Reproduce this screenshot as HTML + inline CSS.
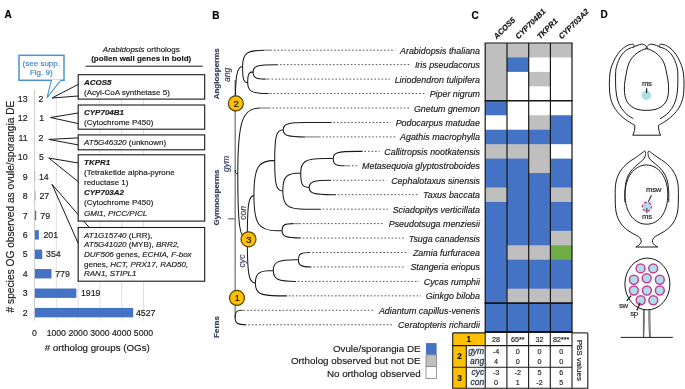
<!DOCTYPE html>
<html><head><meta charset="utf-8"><style>
html,body{margin:0;padding:0;background:#fff;}
svg{display:block;font-family:"Liberation Sans", sans-serif;will-change:transform;}
</style></head><body>
<svg width="685" height="389" viewBox="0 0 685 389">
<rect width="685" height="389" fill="#fff"/>
<text x="4.60" y="18.00" font-size="10" font-weight="bold" font-style="normal" text-anchor="start" fill="#000" stroke="#000" stroke-width="0.16" >A</text>
<text x="212.30" y="19.00" font-size="10" font-weight="bold" font-style="normal" text-anchor="start" fill="#000" stroke="#000" stroke-width="0.16" >B</text>
<text x="471.40" y="19.00" font-size="10" font-weight="bold" font-style="normal" text-anchor="start" fill="#000" stroke="#000" stroke-width="0.16" >C</text>
<text x="600.40" y="17.80" font-size="10" font-weight="bold" font-style="normal" text-anchor="start" fill="#000" stroke="#000" stroke-width="0.16" >D</text>
<line x1="34.50" y1="90" x2="34.50" y2="320.7" stroke="#c8c8c8" stroke-width="0.9"/>
<line x1="56.30" y1="90" x2="56.30" y2="320.7" stroke="#dcdcdc" stroke-width="0.9"/>
<line x1="78.10" y1="90" x2="78.10" y2="320.7" stroke="#dcdcdc" stroke-width="0.9"/>
<line x1="99.90" y1="90" x2="99.90" y2="320.7" stroke="#dcdcdc" stroke-width="0.9"/>
<line x1="121.70" y1="90" x2="121.70" y2="320.7" stroke="#dcdcdc" stroke-width="0.9"/>
<line x1="143.50" y1="90" x2="143.50" y2="320.7" stroke="#dcdcdc" stroke-width="0.9"/>
<text x="27.60" y="101.85" font-size="8.8" font-weight="normal" font-style="normal" text-anchor="end" fill="#1a1a1a" stroke="#1a1a1a" stroke-width="0.16" >13</text>
<text x="38.46" y="101.85" font-size="8.8" font-weight="normal" font-style="normal" text-anchor="start" fill="#1a1a1a" stroke="#1a1a1a" stroke-width="0.16" >2</text>
<text x="27.60" y="121.30" font-size="8.8" font-weight="normal" font-style="normal" text-anchor="end" fill="#1a1a1a" stroke="#1a1a1a" stroke-width="0.16" >12</text>
<text x="39.13" y="121.30" font-size="8.8" font-weight="normal" font-style="normal" text-anchor="start" fill="#1a1a1a" stroke="#1a1a1a" stroke-width="0.16" >1</text>
<text x="27.60" y="140.75" font-size="8.8" font-weight="normal" font-style="normal" text-anchor="end" fill="#1a1a1a" stroke="#1a1a1a" stroke-width="0.16" >11</text>
<text x="38.46" y="140.75" font-size="8.8" font-weight="normal" font-style="normal" text-anchor="start" fill="#1a1a1a" stroke="#1a1a1a" stroke-width="0.16" >2</text>
<text x="27.60" y="160.20" font-size="8.8" font-weight="normal" font-style="normal" text-anchor="end" fill="#1a1a1a" stroke="#1a1a1a" stroke-width="0.16" >10</text>
<text x="38.95" y="160.20" font-size="8.8" font-weight="normal" font-style="normal" text-anchor="start" fill="#1a1a1a" stroke="#1a1a1a" stroke-width="0.16" >5</text>
<rect x="34.90" y="171.80" width="0.24" height="9.4" fill="#4472C4"/>
<text x="27.60" y="179.65" font-size="8.8" font-weight="normal" font-style="normal" text-anchor="end" fill="#1a1a1a" stroke="#1a1a1a" stroke-width="0.16" >9</text>
<text x="38.90" y="179.65" font-size="8.8" font-weight="normal" font-style="normal" text-anchor="start" fill="#1a1a1a" stroke="#1a1a1a" stroke-width="0.16" >14</text>
<rect x="34.90" y="191.25" width="0.47" height="9.4" fill="#4472C4"/>
<text x="27.60" y="199.10" font-size="8.8" font-weight="normal" font-style="normal" text-anchor="end" fill="#1a1a1a" stroke="#1a1a1a" stroke-width="0.16" >8</text>
<text x="39.46" y="199.10" font-size="8.8" font-weight="normal" font-style="normal" text-anchor="start" fill="#1a1a1a" stroke="#1a1a1a" stroke-width="0.16" >27</text>
<rect x="34.90" y="210.70" width="1.32" height="9.4" fill="#4472C4"/>
<text x="27.60" y="218.55" font-size="8.8" font-weight="normal" font-style="normal" text-anchor="end" fill="#1a1a1a" stroke="#1a1a1a" stroke-width="0.16" >7</text>
<text x="40.25" y="218.55" font-size="8.8" font-weight="normal" font-style="normal" text-anchor="start" fill="#1a1a1a" stroke="#1a1a1a" stroke-width="0.16" >79</text>
<rect x="34.90" y="230.15" width="3.98" height="9.4" fill="#4472C4"/>
<text x="27.60" y="238.00" font-size="8.8" font-weight="normal" font-style="normal" text-anchor="end" fill="#1a1a1a" stroke="#1a1a1a" stroke-width="0.16" >6</text>
<text x="43.46" y="238.00" font-size="8.8" font-weight="normal" font-style="normal" text-anchor="start" fill="#1a1a1a" stroke="#1a1a1a" stroke-width="0.16" >201</text>
<rect x="34.90" y="249.60" width="7.32" height="9.4" fill="#4472C4"/>
<text x="27.60" y="257.45" font-size="8.8" font-weight="normal" font-style="normal" text-anchor="end" fill="#1a1a1a" stroke="#1a1a1a" stroke-width="0.16" >5</text>
<text x="46.06" y="257.45" font-size="8.8" font-weight="normal" font-style="normal" text-anchor="start" fill="#1a1a1a" stroke="#1a1a1a" stroke-width="0.16" >354</text>
<rect x="34.90" y="269.05" width="16.58" height="9.4" fill="#4472C4"/>
<text x="27.60" y="276.90" font-size="8.8" font-weight="normal" font-style="normal" text-anchor="end" fill="#1a1a1a" stroke="#1a1a1a" stroke-width="0.16" >4</text>
<text x="55.15" y="276.90" font-size="8.8" font-weight="normal" font-style="normal" text-anchor="start" fill="#1a1a1a" stroke="#1a1a1a" stroke-width="0.16" >779</text>
<rect x="34.90" y="288.50" width="41.43" height="9.4" fill="#4472C4"/>
<text x="27.60" y="296.35" font-size="8.8" font-weight="normal" font-style="normal" text-anchor="end" fill="#1a1a1a" stroke="#1a1a1a" stroke-width="0.16" >3</text>
<text x="80.93" y="296.35" font-size="8.8" font-weight="normal" font-style="normal" text-anchor="start" fill="#1a1a1a" stroke="#1a1a1a" stroke-width="0.16" >1919</text>
<rect x="34.90" y="307.95" width="98.29" height="9.4" fill="#4472C4"/>
<text x="27.60" y="315.80" font-size="8.8" font-weight="normal" font-style="normal" text-anchor="end" fill="#1a1a1a" stroke="#1a1a1a" stroke-width="0.16" >2</text>
<text x="135.90" y="315.80" font-size="8.8" font-weight="normal" font-style="normal" text-anchor="start" fill="#1a1a1a" stroke="#1a1a1a" stroke-width="0.16" >4527</text>
<text x="34.50" y="335.70" font-size="8.7" font-weight="normal" font-style="normal" text-anchor="middle" fill="#1a1a1a" stroke="#1a1a1a" stroke-width="0.16" >0</text>
<text x="56.30" y="335.70" font-size="8.7" font-weight="normal" font-style="normal" text-anchor="middle" fill="#1a1a1a" stroke="#1a1a1a" stroke-width="0.16" >1000</text>
<text x="78.10" y="335.70" font-size="8.7" font-weight="normal" font-style="normal" text-anchor="middle" fill="#1a1a1a" stroke="#1a1a1a" stroke-width="0.16" >2000</text>
<text x="99.90" y="335.70" font-size="8.7" font-weight="normal" font-style="normal" text-anchor="middle" fill="#1a1a1a" stroke="#1a1a1a" stroke-width="0.16" >3000</text>
<text x="121.70" y="335.70" font-size="8.7" font-weight="normal" font-style="normal" text-anchor="middle" fill="#1a1a1a" stroke="#1a1a1a" stroke-width="0.16" >4000</text>
<text x="143.50" y="335.70" font-size="8.7" font-weight="normal" font-style="normal" text-anchor="middle" fill="#1a1a1a" stroke="#1a1a1a" stroke-width="0.16" >5000</text>
<text x="97.20" y="351.00" font-size="9.75" font-weight="normal" font-style="normal" text-anchor="middle" fill="#1a1a1a" stroke="#1a1a1a" stroke-width="0.16" ># ortholog groups (OGs)</text>
<text transform="translate(14.3,206.5) rotate(-90)" font-size="10.2" text-anchor="middle" fill="#1a1a1a" stroke="#1a1a1a" stroke-width="0.16"># species OG observed as ovule/sporangia DE</text>
<line x1="52" y1="98" x2="78.2" y2="84.4" stroke="#1a1a1a" stroke-width="1" fill="none"/>
<line x1="52" y1="98" x2="78.2" y2="96" stroke="#1a1a1a" stroke-width="1" fill="none"/>
<line x1="50.5" y1="117.5" x2="78.2" y2="113" stroke="#1a1a1a" stroke-width="1" fill="none"/>
<line x1="50.5" y1="117.5" x2="78.2" y2="123.6" stroke="#1a1a1a" stroke-width="1" fill="none"/>
<line x1="48.7" y1="139.4" x2="78.2" y2="137.9" stroke="#1a1a1a" stroke-width="1" fill="none"/>
<line x1="48.7" y1="139.4" x2="78.2" y2="144.9" stroke="#1a1a1a" stroke-width="1" fill="none"/>
<line x1="48.7" y1="158" x2="78.2" y2="163" stroke="#1a1a1a" stroke-width="1" fill="none"/>
<line x1="48.7" y1="158" x2="78.2" y2="181.6" stroke="#1a1a1a" stroke-width="1" fill="none"/>
<line x1="52" y1="184.3" x2="95" y2="234.2" stroke="#1a1a1a" stroke-width="1" fill="none"/>
<line x1="52" y1="184.3" x2="78.2" y2="243.4" stroke="#1a1a1a" stroke-width="1" fill="none"/>
<rect x="78.2" y="74.7" width="126.50" height="24.40" fill="#fff" stroke="#1a1a1a" stroke-width="1.1"/>
<rect x="78.2" y="105" width="126.50" height="24.20" fill="#fff" stroke="#1a1a1a" stroke-width="1.1"/>
<rect x="78.2" y="134.9" width="126.50" height="14.90" fill="#fff" stroke="#1a1a1a" stroke-width="1.1"/>
<rect x="78.2" y="154.8" width="126.50" height="66.30" fill="#fff" stroke="#1a1a1a" stroke-width="1.1"/>
<rect x="78.2" y="227.5" width="126.50" height="53.70" fill="#fff" stroke="#1a1a1a" stroke-width="1.1"/>
<text x="84.00" y="84.90" font-size="8" font-weight="bold" font-style="italic" text-anchor="start" fill="#1a1a1a" stroke="#1a1a1a" stroke-width="0.16" >ACOS5</text>
<text x="84.00" y="94.90" font-size="8" font-weight="normal" font-style="normal" text-anchor="start" fill="#1a1a1a" stroke="#1a1a1a" stroke-width="0.16" >(Acyl-CoA synthetase 5)</text>
<text x="84.00" y="115.20" font-size="8" font-weight="bold" font-style="italic" text-anchor="start" fill="#1a1a1a" stroke="#1a1a1a" stroke-width="0.16" >CYP704B1</text>
<text x="84.00" y="124.60" font-size="8" font-weight="normal" font-style="normal" text-anchor="start" fill="#1a1a1a" stroke="#1a1a1a" stroke-width="0.16" >(Cytochrome P450)</text>
<text x="84.00" y="144.90" font-size="8" text-anchor="start" fill="#1a1a1a" stroke="#1a1a1a" stroke-width="0.16"  xml:space="preserve"><tspan font-weight="normal" font-style="italic">AT5G46320</tspan><tspan font-weight="normal" font-style="normal">&#160;(unknown)</tspan></text>
<text x="84.00" y="165.20" font-size="8" font-weight="bold" font-style="italic" text-anchor="start" fill="#1a1a1a" stroke="#1a1a1a" stroke-width="0.16" >TKPR1</text>
<text x="84.00" y="174.60" font-size="8" font-weight="normal" font-style="normal" text-anchor="start" fill="#1a1a1a" stroke="#1a1a1a" stroke-width="0.16" >(Tetraketide alpha-pyrone</text>
<text x="84.00" y="184.60" font-size="8" font-weight="normal" font-style="normal" text-anchor="start" fill="#1a1a1a" stroke="#1a1a1a" stroke-width="0.16" >reductase 1)</text>
<text x="84.00" y="195.00" font-size="8" font-weight="bold" font-style="italic" text-anchor="start" fill="#1a1a1a" stroke="#1a1a1a" stroke-width="0.16" >CYP703A2</text>
<text x="84.00" y="204.90" font-size="8" font-weight="normal" font-style="normal" text-anchor="start" fill="#1a1a1a" stroke="#1a1a1a" stroke-width="0.16" >(Cytochrome P450)</text>
<text x="84.00" y="215.60" font-size="8" font-weight="normal" font-style="italic" text-anchor="start" fill="#1a1a1a" stroke="#1a1a1a" stroke-width="0.16" >GMI1, PICC/PICL</text>
<text x="84.00" y="237.50" font-size="8" text-anchor="start" fill="#1a1a1a" stroke="#1a1a1a" stroke-width="0.16"  xml:space="preserve"><tspan font-weight="normal" font-style="italic">AT1G15740</tspan><tspan font-weight="normal" font-style="normal">&#160;(LRR),</tspan></text>
<text x="84.00" y="247.40" font-size="8" text-anchor="start" fill="#1a1a1a" stroke="#1a1a1a" stroke-width="0.16"  xml:space="preserve"><tspan font-weight="normal" font-style="italic">AT5G41020</tspan><tspan font-weight="normal" font-style="normal">&#160;(MYB),&#160;</tspan><tspan font-weight="normal" font-style="italic">BRR2,</tspan></text>
<text x="84.00" y="257.00" font-size="8" text-anchor="start" fill="#1a1a1a" stroke="#1a1a1a" stroke-width="0.16"  xml:space="preserve"><tspan font-weight="normal" font-style="italic">DUF506</tspan><tspan font-weight="normal" font-style="normal">&#160;genes,&#160;</tspan><tspan font-weight="normal" font-style="italic">ECHIA, F-box</tspan></text>
<text x="84.00" y="266.60" font-size="8" text-anchor="start" fill="#1a1a1a" stroke="#1a1a1a" stroke-width="0.16"  xml:space="preserve"><tspan font-weight="normal" font-style="normal">genes,&#160;</tspan><tspan font-weight="normal" font-style="italic">HCT, PRX17, RAD50,</tspan></text>
<text x="84.00" y="276.20" font-size="8" text-anchor="start" fill="#1a1a1a" stroke="#1a1a1a" stroke-width="0.16"  xml:space="preserve"><tspan font-weight="normal" font-style="italic">RAN1, STIPL1</tspan></text>
<text x="141.30" y="52.10" font-size="8" text-anchor="middle" fill="#1a1a1a" stroke="#1a1a1a" stroke-width="0.16"  xml:space="preserve"><tspan font-weight="normal" font-style="italic">Arabidopsis</tspan><tspan font-weight="normal" font-style="normal">&#160;orthologs</tspan></text>
<text x="141.20" y="61.00" font-size="8" font-weight="bold" font-style="normal" text-anchor="middle" fill="#1a1a1a" stroke="#1a1a1a" stroke-width="0.16" >(pollen wall genes in bold)</text>
<line x1="85.5" y1="66.2" x2="202.8" y2="66.2" stroke="#1a1a1a" stroke-width="1"/>
<path d="M51.4,80.4 L47,97.9 L60.6,80.4" fill="#fff" stroke="#4a93d3" stroke-width="1.1"/>
<rect x="19.0" y="55.3" width="45.0" height="25.0" fill="#fff" stroke="#4a93d3" stroke-width="1.5"/>
<line x1="52" y1="80.4" x2="60" y2="80.4" stroke="#fff" stroke-width="1.6"/>
<text x="41.30" y="65.50" font-size="8" font-weight="normal" font-style="normal" text-anchor="middle" fill="#3d85c6" stroke="#3d85c6" stroke-width="0.16" >(see supp.</text>
<text x="41.30" y="75.20" font-size="8" font-weight="normal" font-style="normal" text-anchor="middle" fill="#3d85c6" stroke="#3d85c6" stroke-width="0.16" >Fig. 9)</text>
<path d="M235.2,173.70 L235.2,318" fill="none" stroke="#7a7a7a" stroke-width="1.3"/>
<path d="M228.1,218.80 L235.2,218.80" fill="none" stroke="#7a7a7a" stroke-width="1.3"/>
<path d="M235.2,173.70 L235.2,80" fill="none" stroke="#7a7a7a" stroke-width="1.3"/>
<path d="M253.10,71.88 C253.10,66.09 257.70,64.65 276.10,64.65 L278.10,64.65 M253.10,71.88 C253.10,77.66 255.56,79.10 265.40,79.10 M247.70,82.71 C247.70,74.04 248.78,71.88 253.10,71.88 M247.70,82.71 C247.70,91.38 251.80,93.55 268.20,93.55 M242.60,66.46 C242.60,53.45 246.88,50.20 264.00,50.20 M242.60,66.46 C242.60,79.46 243.62,82.71 247.70,82.71 M283.20,129.67 C283.20,123.89 287.80,122.45 306.20,122.45 L331.70,122.45 M283.20,129.67 C283.20,135.45 287.64,136.90 305.40,136.90 M333.20,158.57 C333.20,152.79 337.80,151.35 356.20,151.35 L362.60,151.35 M333.20,158.57 C333.20,164.36 335.46,165.80 344.50,165.80 M309.20,187.47 C309.20,181.69 313.58,180.25 331.10,180.25 M309.20,187.47 C309.20,193.25 313.80,194.70 332.20,194.70 L336.00,194.70 M300.70,173.02 C300.70,161.46 305.30,158.57 323.70,158.57 L333.20,158.57 M300.70,173.02 C300.70,184.58 302.40,187.47 309.20,187.47 M282.80,191.09 C282.80,176.64 286.38,173.02 300.70,173.02 M282.80,191.09 C282.80,205.54 287.40,209.15 305.80,209.15 L320.90,209.15 M274.70,160.38 C274.70,135.82 276.40,129.67 283.20,129.67 M274.70,160.38 C274.70,184.95 276.32,191.09 282.80,191.09 M282.10,230.82 C282.10,225.04 284.28,223.60 293.00,223.60 M282.10,230.82 C282.10,236.61 285.88,238.05 301.00,238.05 M253.90,195.60 C253.90,167.43 258.06,160.38 274.70,160.38 M253.90,195.60 C253.90,223.78 258.50,230.82 276.90,230.82 L282.10,230.82 M298.40,259.73 C298.40,253.94 300.72,252.50 310.00,252.50 M298.40,259.73 C298.40,265.50 301.02,266.95 311.50,266.95 M273.30,270.56 C273.30,261.89 277.90,259.73 296.30,259.73 L298.40,259.73 M273.30,270.56 C273.30,279.23 277.84,281.40 296.00,281.40 M255.40,283.21 C255.40,273.09 258.98,270.56 273.30,270.56 M255.40,283.21 C255.40,293.32 260.00,295.85 278.40,295.85 L287.10,295.85 M247.30,239.40 C247.30,204.36 248.62,195.60 253.90,195.60 M247.30,239.40 C247.30,274.45 248.92,283.21 255.40,283.21 M237.80,173.70 C237.80,121.14 242.32,108.00 260.40,108.00 M237.80,173.70 C237.80,226.26 239.70,239.40 247.30,239.40 M235.20,112.00 C235.20,75.56 236.68,66.46 242.60,66.46 M235.20,170.00 C235.20,172.96 235.72,173.70 237.80,173.70 M235.10,317.52 C235.10,311.74 236.46,310.30 241.90,310.30 M235.10,317.52 C235.10,323.31 237.38,324.75 246.50,324.75" fill="none" stroke="#1a1a1a" stroke-width="1.05"/>
<line x1="264.00" y1="50.20" x2="272.20" y2="50.20" stroke="#8a8a8a" stroke-width="1.2"/>
<line x1="274.00" y1="50.20" x2="395.35" y2="50.20" stroke="#555" stroke-width="1" stroke-dasharray="1.6 1.95"/>
<text x="480.00" y="53.70" font-size="8.9" font-weight="normal" font-style="italic" text-anchor="end" fill="#1a1a1a" stroke="#1a1a1a" stroke-width="0.16" >Arabidopsis thaliana</text>
<line x1="279.90" y1="64.65" x2="410.20" y2="64.65" stroke="#555" stroke-width="1" stroke-dasharray="1.6 1.95"/>
<text x="480.00" y="68.15" font-size="8.9" font-weight="normal" font-style="italic" text-anchor="end" fill="#1a1a1a" stroke="#1a1a1a" stroke-width="0.16" >Iris pseudacorus</text>
<line x1="265.40" y1="79.10" x2="269.70" y2="79.10" stroke="#8a8a8a" stroke-width="1.2"/>
<line x1="271.50" y1="79.10" x2="389.90" y2="79.10" stroke="#555" stroke-width="1" stroke-dasharray="1.6 1.95"/>
<text x="480.00" y="82.60" font-size="8.9" font-weight="normal" font-style="italic" text-anchor="end" fill="#1a1a1a" stroke="#1a1a1a" stroke-width="0.16" >Liriodendron tulipifera</text>
<line x1="268.20" y1="93.55" x2="271.80" y2="93.55" stroke="#8a8a8a" stroke-width="1.2"/>
<line x1="273.60" y1="93.55" x2="425.05" y2="93.55" stroke="#555" stroke-width="1" stroke-dasharray="1.6 1.95"/>
<text x="480.00" y="97.05" font-size="8.9" font-weight="normal" font-style="italic" text-anchor="end" fill="#1a1a1a" stroke="#1a1a1a" stroke-width="0.16" >Piper nigrum</text>
<line x1="260.40" y1="108.00" x2="270.70" y2="108.00" stroke="#8a8a8a" stroke-width="1.2"/>
<line x1="272.50" y1="108.00" x2="409.20" y2="108.00" stroke="#555" stroke-width="1" stroke-dasharray="1.6 1.95"/>
<text x="480.00" y="111.50" font-size="8.9" font-weight="normal" font-style="italic" text-anchor="end" fill="#1a1a1a" stroke="#1a1a1a" stroke-width="0.16" >Gnetum gnemon</text>
<line x1="333.50" y1="122.45" x2="390.89" y2="122.45" stroke="#555" stroke-width="1" stroke-dasharray="1.6 1.95"/>
<text x="480.00" y="125.95" font-size="8.9" font-weight="normal" font-style="italic" text-anchor="end" fill="#1a1a1a" stroke="#1a1a1a" stroke-width="0.16" >Podocarpus matudae</text>
<line x1="305.40" y1="136.90" x2="320.70" y2="136.90" stroke="#8a8a8a" stroke-width="1.2"/>
<line x1="322.50" y1="136.90" x2="395.36" y2="136.90" stroke="#555" stroke-width="1" stroke-dasharray="1.6 1.95"/>
<text x="480.00" y="140.40" font-size="8.9" font-weight="normal" font-style="italic" text-anchor="end" fill="#1a1a1a" stroke="#1a1a1a" stroke-width="0.16" >Agathis macrophylla</text>
<line x1="364.40" y1="151.35" x2="379.53" y2="151.35" stroke="#555" stroke-width="1" stroke-dasharray="1.6 1.95"/>
<text x="480.00" y="154.85" font-size="8.9" font-weight="normal" font-style="italic" text-anchor="end" fill="#1a1a1a" stroke="#1a1a1a" stroke-width="0.16" >Callitropsis nootkatensis</text>
<line x1="344.50" y1="165.80" x2="350.20" y2="165.80" stroke="#8a8a8a" stroke-width="1.2"/>
<line x1="352.00" y1="165.80" x2="357.25" y2="165.80" stroke="#555" stroke-width="1" stroke-dasharray="1.6 1.95"/>
<text x="480.00" y="169.30" font-size="8.9" font-weight="normal" font-style="italic" text-anchor="end" fill="#1a1a1a" stroke="#1a1a1a" stroke-width="0.16" >Metasequoia glyptostroboides</text>
<line x1="332.90" y1="180.25" x2="386.45" y2="180.25" stroke="#555" stroke-width="1" stroke-dasharray="1.6 1.95"/>
<text x="480.00" y="183.75" font-size="8.9" font-weight="normal" font-style="italic" text-anchor="end" fill="#1a1a1a" stroke="#1a1a1a" stroke-width="0.16" >Cephalotaxus sinensis</text>
<line x1="337.80" y1="194.70" x2="418.43" y2="194.70" stroke="#555" stroke-width="1" stroke-dasharray="1.6 1.95"/>
<text x="480.00" y="198.20" font-size="8.9" font-weight="normal" font-style="italic" text-anchor="end" fill="#1a1a1a" stroke="#1a1a1a" stroke-width="0.16" >Taxus baccata</text>
<line x1="322.70" y1="209.15" x2="387.95" y2="209.15" stroke="#555" stroke-width="1" stroke-dasharray="1.6 1.95"/>
<text x="480.00" y="212.65" font-size="8.9" font-weight="normal" font-style="italic" text-anchor="end" fill="#1a1a1a" stroke="#1a1a1a" stroke-width="0.16" >Sciadopitys verticillata</text>
<line x1="293.00" y1="223.60" x2="301.20" y2="223.60" stroke="#8a8a8a" stroke-width="1.2"/>
<line x1="303.00" y1="223.60" x2="383.97" y2="223.60" stroke="#555" stroke-width="1" stroke-dasharray="1.6 1.95"/>
<text x="480.00" y="227.10" font-size="8.9" font-weight="normal" font-style="italic" text-anchor="end" fill="#1a1a1a" stroke="#1a1a1a" stroke-width="0.16" >Pseudotsuga menziesii</text>
<line x1="302.80" y1="238.05" x2="404.08" y2="238.05" stroke="#555" stroke-width="1" stroke-dasharray="1.6 1.95"/>
<text x="480.00" y="241.55" font-size="8.9" font-weight="normal" font-style="italic" text-anchor="end" fill="#1a1a1a" stroke="#1a1a1a" stroke-width="0.16" >Tsuga canadensis</text>
<line x1="312.30" y1="252.50" x2="408.23" y2="252.50" stroke="#555" stroke-width="1" stroke-dasharray="1.6 1.95"/>
<text x="480.00" y="256.00" font-size="8.9" font-weight="normal" font-style="italic" text-anchor="end" fill="#1a1a1a" stroke="#1a1a1a" stroke-width="0.16" >Zamia furfuracea</text>
<line x1="313.30" y1="266.95" x2="405.74" y2="266.95" stroke="#555" stroke-width="1" stroke-dasharray="1.6 1.95"/>
<text x="480.00" y="270.45" font-size="8.9" font-weight="normal" font-style="italic" text-anchor="end" fill="#1a1a1a" stroke="#1a1a1a" stroke-width="0.16" >Stangeria eriopus</text>
<line x1="297.80" y1="281.40" x2="419.12" y2="281.40" stroke="#555" stroke-width="1" stroke-dasharray="1.6 1.95"/>
<text x="480.00" y="284.90" font-size="8.9" font-weight="normal" font-style="italic" text-anchor="end" fill="#1a1a1a" stroke="#1a1a1a" stroke-width="0.16" >Cycas rumphii</text>
<line x1="288.90" y1="295.85" x2="421.07" y2="295.85" stroke="#555" stroke-width="1" stroke-dasharray="1.6 1.95"/>
<text x="480.00" y="299.35" font-size="8.9" font-weight="normal" font-style="italic" text-anchor="end" fill="#1a1a1a" stroke="#1a1a1a" stroke-width="0.16" >Ginkgo biloba</text>
<line x1="241.90" y1="310.30" x2="245.30" y2="310.30" stroke="#8a8a8a" stroke-width="1.2"/>
<line x1="247.10" y1="310.30" x2="374.09" y2="310.30" stroke="#555" stroke-width="1" stroke-dasharray="1.6 1.95"/>
<text x="480.00" y="313.80" font-size="8.9" font-weight="normal" font-style="italic" text-anchor="end" fill="#1a1a1a" stroke="#1a1a1a" stroke-width="0.16" >Adiantum capillus-veneris</text>
<line x1="248.30" y1="324.75" x2="393.39" y2="324.75" stroke="#555" stroke-width="1" stroke-dasharray="1.6 1.95"/>
<text x="480.00" y="328.25" font-size="8.9" font-weight="normal" font-style="italic" text-anchor="end" fill="#1a1a1a" stroke="#1a1a1a" stroke-width="0.16" >Ceratopteris richardii</text>
<circle cx="235.85" cy="103.45" r="7.5" fill="#FFC000" stroke="#5a4500" stroke-width="1.2"/>
<text x="236.15" y="106.85" font-size="9.8" font-weight="normal" font-style="normal" text-anchor="middle" fill="#111" stroke="#111" stroke-width="0.16" >2</text>
<circle cx="248.5" cy="239.3" r="7.5" fill="#FFC000" stroke="#5a4500" stroke-width="1.2"/>
<text x="248.80" y="242.70" font-size="9.8" font-weight="normal" font-style="normal" text-anchor="middle" fill="#111" stroke="#111" stroke-width="0.16" >3</text>
<circle cx="237.0" cy="297.9" r="7.5" fill="#FFC000" stroke="#5a4500" stroke-width="1.2"/>
<text x="237.30" y="301.30" font-size="9.8" font-weight="normal" font-style="normal" text-anchor="middle" fill="#111" stroke="#111" stroke-width="0.16" >1</text>
<text transform="translate(219.30,73.80) rotate(-90)" font-size="8" font-weight="bold" font-style="normal" text-anchor="middle" fill="#34405c" stroke="#34405c" stroke-width="0.16">Angiosperms</text>
<text transform="translate(219.30,197.50) rotate(-90)" font-size="8" font-weight="bold" font-style="normal" text-anchor="middle" fill="#34405c" stroke="#34405c" stroke-width="0.16">Gymnosperms</text>
<text transform="translate(219.30,327.00) rotate(-90)" font-size="8" font-weight="bold" font-style="normal" text-anchor="middle" fill="#34405c" stroke="#34405c" stroke-width="0.16">Ferns</text>
<text transform="translate(229.80,74.90) rotate(-90)" font-size="8.6" font-weight="normal" font-style="italic" text-anchor="middle" fill="#34405c" stroke="#34405c" stroke-width="0.16">ang</text>
<text transform="translate(228.90,163.90) rotate(-90)" font-size="8.6" font-weight="normal" font-style="italic" text-anchor="middle" fill="#34405c" stroke="#34405c" stroke-width="0.16">gym</text>
<text transform="translate(245.80,212.80) rotate(-90)" font-size="8.6" font-weight="normal" font-style="italic" text-anchor="middle" fill="#34405c" stroke="#34405c" stroke-width="0.16">con</text>
<text transform="translate(244.80,261.00) rotate(-90)" font-size="8.6" font-weight="normal" font-style="italic" text-anchor="middle" fill="#34405c" stroke="#34405c" stroke-width="0.16">cyc</text>
<rect x="485.20" y="43.00" width="21.75" height="15.45" fill="#BFBFBF"/>
<rect x="506.90" y="43.00" width="21.75" height="15.45" fill="#BFBFBF"/>
<rect x="528.60" y="43.00" width="21.75" height="15.45" fill="#BFBFBF"/>
<rect x="550.30" y="43.00" width="21.75" height="15.45" fill="#BFBFBF"/>
<rect x="485.20" y="57.45" width="21.75" height="15.45" fill="#BFBFBF"/>
<rect x="506.90" y="57.45" width="21.75" height="15.45" fill="#4472C4"/>
<rect x="528.60" y="57.45" width="21.75" height="15.45" fill="#fff"/>
<rect x="550.30" y="57.45" width="21.75" height="15.45" fill="#fff"/>
<rect x="485.20" y="71.90" width="21.75" height="15.45" fill="#BFBFBF"/>
<rect x="506.90" y="71.90" width="21.75" height="15.45" fill="#fff"/>
<rect x="528.60" y="71.90" width="21.75" height="15.45" fill="#BFBFBF"/>
<rect x="550.30" y="71.90" width="21.75" height="15.45" fill="#fff"/>
<rect x="485.20" y="86.35" width="21.75" height="15.45" fill="#BFBFBF"/>
<rect x="506.90" y="86.35" width="21.75" height="15.45" fill="#fff"/>
<rect x="528.60" y="86.35" width="21.75" height="15.45" fill="#fff"/>
<rect x="550.30" y="86.35" width="21.75" height="15.45" fill="#fff"/>
<rect x="485.20" y="100.80" width="21.75" height="15.45" fill="#4472C4"/>
<rect x="506.90" y="100.80" width="21.75" height="15.45" fill="#fff"/>
<rect x="528.60" y="100.80" width="21.75" height="15.45" fill="#fff"/>
<rect x="550.30" y="100.80" width="21.75" height="15.45" fill="#fff"/>
<rect x="485.20" y="115.25" width="21.75" height="15.45" fill="#fff"/>
<rect x="506.90" y="115.25" width="21.75" height="15.45" fill="#fff"/>
<rect x="528.60" y="115.25" width="21.75" height="15.45" fill="#BFBFBF"/>
<rect x="550.30" y="115.25" width="21.75" height="15.45" fill="#4472C4"/>
<rect x="485.20" y="129.70" width="21.75" height="15.45" fill="#4472C4"/>
<rect x="506.90" y="129.70" width="21.75" height="15.45" fill="#4472C4"/>
<rect x="528.60" y="129.70" width="21.75" height="15.45" fill="#4472C4"/>
<rect x="550.30" y="129.70" width="21.75" height="15.45" fill="#4472C4"/>
<rect x="485.20" y="144.15" width="21.75" height="15.45" fill="#BFBFBF"/>
<rect x="506.90" y="144.15" width="21.75" height="15.45" fill="#BFBFBF"/>
<rect x="528.60" y="144.15" width="21.75" height="15.45" fill="#BFBFBF"/>
<rect x="550.30" y="144.15" width="21.75" height="15.45" fill="#fff"/>
<rect x="485.20" y="158.60" width="21.75" height="15.45" fill="#4472C4"/>
<rect x="506.90" y="158.60" width="21.75" height="15.45" fill="#4472C4"/>
<rect x="528.60" y="158.60" width="21.75" height="15.45" fill="#BFBFBF"/>
<rect x="550.30" y="158.60" width="21.75" height="15.45" fill="#4472C4"/>
<rect x="485.20" y="173.05" width="21.75" height="15.45" fill="#4472C4"/>
<rect x="506.90" y="173.05" width="21.75" height="15.45" fill="#4472C4"/>
<rect x="528.60" y="173.05" width="21.75" height="15.45" fill="#4472C4"/>
<rect x="550.30" y="173.05" width="21.75" height="15.45" fill="#4472C4"/>
<rect x="485.20" y="187.50" width="21.75" height="15.45" fill="#BFBFBF"/>
<rect x="506.90" y="187.50" width="21.75" height="15.45" fill="#4472C4"/>
<rect x="528.60" y="187.50" width="21.75" height="15.45" fill="#4472C4"/>
<rect x="550.30" y="187.50" width="21.75" height="15.45" fill="#BFBFBF"/>
<rect x="485.20" y="201.95" width="21.75" height="15.45" fill="#4472C4"/>
<rect x="506.90" y="201.95" width="21.75" height="15.45" fill="#4472C4"/>
<rect x="528.60" y="201.95" width="21.75" height="15.45" fill="#4472C4"/>
<rect x="550.30" y="201.95" width="21.75" height="15.45" fill="#4472C4"/>
<rect x="485.20" y="216.40" width="21.75" height="15.45" fill="#4472C4"/>
<rect x="506.90" y="216.40" width="21.75" height="15.45" fill="#4472C4"/>
<rect x="528.60" y="216.40" width="21.75" height="15.45" fill="#4472C4"/>
<rect x="550.30" y="216.40" width="21.75" height="15.45" fill="#4472C4"/>
<rect x="485.20" y="230.85" width="21.75" height="15.45" fill="#4472C4"/>
<rect x="506.90" y="230.85" width="21.75" height="15.45" fill="#4472C4"/>
<rect x="528.60" y="230.85" width="21.75" height="15.45" fill="#4472C4"/>
<rect x="550.30" y="230.85" width="21.75" height="15.45" fill="#BFBFBF"/>
<rect x="485.20" y="245.30" width="21.75" height="15.45" fill="#4472C4"/>
<rect x="506.90" y="245.30" width="21.75" height="15.45" fill="#BFBFBF"/>
<rect x="528.60" y="245.30" width="21.75" height="15.45" fill="#BFBFBF"/>
<rect x="550.30" y="245.30" width="21.75" height="15.45" fill="#70AD47"/>
<rect x="485.20" y="259.75" width="21.75" height="15.45" fill="#4472C4"/>
<rect x="506.90" y="259.75" width="21.75" height="15.45" fill="#4472C4"/>
<rect x="528.60" y="259.75" width="21.75" height="15.45" fill="#4472C4"/>
<rect x="550.30" y="259.75" width="21.75" height="15.45" fill="#4472C4"/>
<rect x="485.20" y="274.20" width="21.75" height="15.45" fill="#4472C4"/>
<rect x="506.90" y="274.20" width="21.75" height="15.45" fill="#4472C4"/>
<rect x="528.60" y="274.20" width="21.75" height="15.45" fill="#4472C4"/>
<rect x="550.30" y="274.20" width="21.75" height="15.45" fill="#4472C4"/>
<rect x="485.20" y="288.65" width="21.75" height="15.45" fill="#4472C4"/>
<rect x="506.90" y="288.65" width="21.75" height="15.45" fill="#BFBFBF"/>
<rect x="528.60" y="288.65" width="21.75" height="15.45" fill="#BFBFBF"/>
<rect x="550.30" y="288.65" width="21.75" height="15.45" fill="#BFBFBF"/>
<rect x="485.20" y="303.10" width="21.75" height="15.45" fill="#4472C4"/>
<rect x="506.90" y="303.10" width="21.75" height="15.45" fill="#4472C4"/>
<rect x="528.60" y="303.10" width="21.75" height="15.45" fill="#4472C4"/>
<rect x="550.30" y="303.10" width="21.75" height="15.45" fill="#4472C4"/>
<rect x="485.20" y="317.55" width="21.75" height="14.50" fill="#4472C4"/>
<rect x="506.90" y="317.55" width="21.75" height="14.50" fill="#4472C4"/>
<rect x="528.60" y="317.55" width="21.75" height="14.50" fill="#4472C4"/>
<rect x="550.30" y="317.55" width="21.75" height="14.50" fill="#4472C4"/>
<line x1="485.2" y1="43.0" x2="485.2" y2="332.00" stroke="#151515" stroke-width="1.2"/>
<line x1="507.00" y1="43.0" x2="507.00" y2="332.00" stroke="#111" stroke-width="1.15"/>
<line x1="528.70" y1="43.0" x2="528.70" y2="332.00" stroke="#111" stroke-width="1.15"/>
<line x1="550.40" y1="43.0" x2="550.40" y2="332.00" stroke="#111" stroke-width="1.15"/>
<line x1="572.0" y1="43.0" x2="572.0" y2="332.00" stroke="#151515" stroke-width="1.2"/>
<line x1="484.59999999999997" y1="43.0" x2="572.6" y2="43.0" stroke="#151515" stroke-width="1.2"/>
<line x1="484.59999999999997" y1="100.80" x2="572.6" y2="100.80" stroke="#151515" stroke-width="1.6"/>
<line x1="484.59999999999997" y1="303.10" x2="572.6" y2="303.10" stroke="#151515" stroke-width="1.6"/>
<line x1="484.59999999999997" y1="332.00" x2="572.6" y2="332.00" stroke="#151515" stroke-width="1.8"/>
<text transform="translate(496.75,39.6) rotate(-45)" font-size="7.8" font-weight="bold" font-style="italic" fill="#111" stroke="#111" stroke-width="0.16">ACOS5</text>
<text transform="translate(518.45,39.6) rotate(-45)" font-size="7.8" font-weight="bold" font-style="italic" fill="#111" stroke="#111" stroke-width="0.16">CYP704B1</text>
<text transform="translate(540.15,39.6) rotate(-45)" font-size="7.8" font-weight="bold" font-style="italic" fill="#111" stroke="#111" stroke-width="0.16">TKPR1</text>
<text transform="translate(561.85,39.6) rotate(-45)" font-size="7.8" font-weight="bold" font-style="italic" fill="#111" stroke="#111" stroke-width="0.16">CYP703A2</text>
<rect x="426.0" y="343.10" width="10.6" height="11.77" fill="#4472C4" stroke="none" stroke-width="0.9"/>
<text x="420.60" y="352.10" font-size="9.8" font-weight="normal" font-style="normal" text-anchor="end" fill="#1a1a1a" stroke="#1a1a1a" stroke-width="0.16" >Ovule/sporangia DE</text>
<rect x="426.0" y="354.87" width="10.6" height="11.77" fill="#BFBFBF" stroke="#8a8a8a" stroke-width="0.9"/>
<text x="420.60" y="364.40" font-size="9.8" font-weight="normal" font-style="normal" text-anchor="end" fill="#1a1a1a" stroke="#1a1a1a" stroke-width="0.16" >Ortholog observed but not DE</text>
<rect x="426.0" y="366.64" width="10.6" height="11.77" fill="#fff" stroke="#8a8a8a" stroke-width="0.9"/>
<text x="420.60" y="377.00" font-size="9.8" font-weight="normal" font-style="normal" text-anchor="end" fill="#1a1a1a" stroke="#1a1a1a" stroke-width="0.16" >No ortholog observed</text>
<rect x="452.7" y="332.90" width="32.50" height="12.70" fill="#FFC000"/>
<rect x="452.7" y="345.6" width="13.60" height="42.60" fill="#FFC000"/>
<path d="M452.7,332.90 V388.2 H587.8 V332.90" fill="none" stroke="#1a1a1a" stroke-width="1.1"/>
<line x1="452.7" y1="332.90" x2="485.2" y2="332.90" stroke="#1a1a1a" stroke-width="1.1"/>
<line x1="572.0" y1="332.90" x2="587.8" y2="332.90" stroke="#1a1a1a" stroke-width="1.1"/>
<line x1="452.7" y1="345.6" x2="572.0" y2="345.6" stroke="#1a1a1a" stroke-width="1.1"/>
<line x1="452.7" y1="367.2" x2="572.0" y2="367.2" stroke="#1a1a1a" stroke-width="1.1"/>
<line x1="466.3" y1="345.6" x2="466.3" y2="388.2" stroke="#1a1a1a" stroke-width="1.1"/>
<line x1="485.2" y1="332.90" x2="485.2" y2="388.2" stroke="#1a1a1a" stroke-width="1.1"/>
<line x1="506.9" y1="332.90" x2="506.9" y2="388.2" stroke="#1a1a1a" stroke-width="1.1"/>
<line x1="528.6" y1="332.90" x2="528.6" y2="388.2" stroke="#1a1a1a" stroke-width="1.1"/>
<line x1="550.3" y1="332.90" x2="550.3" y2="388.2" stroke="#1a1a1a" stroke-width="1.1"/>
<line x1="572.0" y1="332.90" x2="572.0" y2="388.2" stroke="#1a1a1a" stroke-width="1.1"/>
<text x="468.90" y="342.40" font-size="8.2" font-weight="bold" font-style="normal" text-anchor="middle" fill="#111" stroke="#111" stroke-width="0.16" >1</text>
<text x="459.50" y="359.30" font-size="8.2" font-weight="bold" font-style="normal" text-anchor="middle" fill="#111" stroke="#111" stroke-width="0.16" >2</text>
<text x="459.60" y="380.80" font-size="8.2" font-weight="bold" font-style="normal" text-anchor="middle" fill="#111" stroke="#111" stroke-width="0.16" >3</text>
<text x="484.20" y="353.90" font-size="8.5" font-weight="normal" font-style="italic" text-anchor="end" fill="#2e3a55" stroke="#2e3a55" stroke-width="0.3">gym</text>
<text x="484.20" y="364.00" font-size="8.5" font-weight="normal" font-style="italic" text-anchor="end" fill="#2e3a55" stroke="#2e3a55" stroke-width="0.3">ang</text>
<text x="484.20" y="375.00" font-size="8.5" font-weight="normal" font-style="italic" text-anchor="end" fill="#2e3a55" stroke="#2e3a55" stroke-width="0.3">cyc</text>
<text x="484.20" y="385.20" font-size="8.5" font-weight="normal" font-style="italic" text-anchor="end" fill="#2e3a55" stroke="#2e3a55" stroke-width="0.3">con</text>
<text x="496.05" y="342.30" font-size="7.2" font-weight="normal" font-style="normal" text-anchor="middle" fill="#222" stroke="#222" stroke-width="0.16" >28</text>
<text x="517.75" y="342.30" font-size="7.2" font-weight="normal" font-style="normal" text-anchor="middle" fill="#222" stroke="#222" stroke-width="0.16" >65**</text>
<text x="539.45" y="342.30" font-size="7.2" font-weight="normal" font-style="normal" text-anchor="middle" fill="#222" stroke="#222" stroke-width="0.16" >32</text>
<text x="561.15" y="342.30" font-size="7.2" font-weight="normal" font-style="normal" text-anchor="middle" fill="#222" stroke="#222" stroke-width="0.16" >82***</text>
<text x="496.05" y="353.90" font-size="7.2" font-weight="normal" font-style="normal" text-anchor="middle" fill="#222" stroke="#222" stroke-width="0.16" >-4</text>
<text x="517.75" y="353.90" font-size="7.2" font-weight="normal" font-style="normal" text-anchor="middle" fill="#222" stroke="#222" stroke-width="0.16" >0</text>
<text x="539.45" y="353.90" font-size="7.2" font-weight="normal" font-style="normal" text-anchor="middle" fill="#222" stroke="#222" stroke-width="0.16" >0</text>
<text x="561.15" y="353.90" font-size="7.2" font-weight="normal" font-style="normal" text-anchor="middle" fill="#222" stroke="#222" stroke-width="0.16" >0</text>
<text x="496.05" y="364.20" font-size="7.2" font-weight="normal" font-style="normal" text-anchor="middle" fill="#222" stroke="#222" stroke-width="0.16" >4</text>
<text x="517.75" y="364.20" font-size="7.2" font-weight="normal" font-style="normal" text-anchor="middle" fill="#222" stroke="#222" stroke-width="0.16" >0</text>
<text x="539.45" y="364.20" font-size="7.2" font-weight="normal" font-style="normal" text-anchor="middle" fill="#222" stroke="#222" stroke-width="0.16" >0</text>
<text x="561.15" y="364.20" font-size="7.2" font-weight="normal" font-style="normal" text-anchor="middle" fill="#222" stroke="#222" stroke-width="0.16" >0</text>
<text x="496.05" y="375.10" font-size="7.2" font-weight="normal" font-style="normal" text-anchor="middle" fill="#222" stroke="#222" stroke-width="0.16" >-3</text>
<text x="517.75" y="375.10" font-size="7.2" font-weight="normal" font-style="normal" text-anchor="middle" fill="#222" stroke="#222" stroke-width="0.16" >-2</text>
<text x="539.45" y="375.10" font-size="7.2" font-weight="normal" font-style="normal" text-anchor="middle" fill="#222" stroke="#222" stroke-width="0.16" >5</text>
<text x="561.15" y="375.10" font-size="7.2" font-weight="normal" font-style="normal" text-anchor="middle" fill="#222" stroke="#222" stroke-width="0.16" >6</text>
<text x="496.05" y="385.40" font-size="7.2" font-weight="normal" font-style="normal" text-anchor="middle" fill="#222" stroke="#222" stroke-width="0.16" >0</text>
<text x="517.75" y="385.40" font-size="7.2" font-weight="normal" font-style="normal" text-anchor="middle" fill="#222" stroke="#222" stroke-width="0.16" >1</text>
<text x="539.45" y="385.40" font-size="7.2" font-weight="normal" font-style="normal" text-anchor="middle" fill="#222" stroke="#222" stroke-width="0.16" >-2</text>
<text x="561.15" y="385.40" font-size="7.2" font-weight="normal" font-style="normal" text-anchor="middle" fill="#222" stroke="#222" stroke-width="0.16" >5</text>
<text transform="translate(577.0,360.3) rotate(90)" font-size="8" text-anchor="middle" fill="#222" stroke="#222" stroke-width="0.16">PBS values</text>
<path d="M632.20,44.20 C631.48,44.37 629.35,44.58 627.90,45.20 C626.45,45.82 624.97,46.73 623.50,47.90 C622.03,49.07 620.42,50.60 619.10,52.20 C617.78,53.80 616.62,55.75 615.60,57.50 C614.58,59.25 613.80,60.82 613.00,62.70 C612.20,64.58 611.33,66.75 610.80,68.80 C610.27,70.85 610.03,72.80 609.80,75.00 C609.57,77.20 609.45,79.67 609.40,82.00 C609.35,84.33 609.33,86.42 609.50,89.00 C609.67,91.58 609.65,94.50 610.40,97.50 C611.15,100.50 612.23,103.95 614.00,107.00 C615.77,110.05 618.42,113.27 621.00,115.80 C623.58,118.33 627.20,120.62 629.50,122.20 C631.80,123.78 633.92,124.78 634.80,125.30 C634.90,128.5 634.6,132.5 632.7,135.2 L660.70,135.2 C658.80,132.5 658.50,128.5 658.60,125.3 C659.48,124.78 661.60,123.78 663.90,122.20 C666.20,120.62 669.82,118.33 672.40,115.80 C674.98,113.27 677.63,110.05 679.40,107.00 C681.17,103.95 682.25,100.50 683.00,97.50 C683.75,94.50 683.73,91.58 683.90,89.00 C684.07,86.42 684.05,84.33 684.00,82.00 C683.95,79.67 683.83,77.20 683.60,75.00 C683.37,72.80 683.13,70.85 682.60,68.80 C682.07,66.75 681.20,64.58 680.40,62.70 C679.60,60.82 678.82,59.25 677.80,57.50 C676.78,55.75 675.62,53.80 674.30,52.20 C672.98,50.60 671.37,49.07 669.90,47.90 C668.43,46.73 666.95,45.82 665.50,45.20 C664.05,44.58 661.92,44.37 661.20,44.20" fill="none" stroke="#1a1a1a" stroke-width="1"/>
<path d="M632.20,47.40 C631.48,47.70 629.35,48.32 627.90,49.20 C626.45,50.08 624.82,51.32 623.50,52.70 C622.18,54.08 621.02,55.68 620.00,57.50 C618.98,59.32 618.07,61.72 617.40,63.60 C616.73,65.48 616.30,67.07 616.00,68.80 C615.70,70.53 615.67,71.80 615.60,74.00 C615.53,76.20 615.55,79.33 615.60,82.00 C615.65,84.67 615.57,87.00 615.90,90.00 C616.23,93.00 616.67,96.95 617.60,100.00 C618.53,103.05 619.93,105.87 621.50,108.30 C623.07,110.73 625.02,112.87 627.00,114.60 C628.98,116.33 632.33,118.02 633.40,118.70" fill="none" stroke="#1a1a1a" stroke-width="1"/>
<path d="M661.20,47.40 C661.92,47.70 664.05,48.32 665.50,49.20 C666.95,50.08 668.58,51.32 669.90,52.70 C671.22,54.08 672.38,55.68 673.40,57.50 C674.42,59.32 675.33,61.72 676.00,63.60 C676.67,65.48 677.10,67.07 677.40,68.80 C677.70,70.53 677.73,71.80 677.80,74.00 C677.87,76.20 677.85,79.33 677.80,82.00 C677.75,84.67 677.83,87.00 677.50,90.00 C677.17,93.00 676.73,96.95 675.80,100.00 C674.87,103.05 673.47,105.87 671.90,108.30 C670.33,110.73 668.38,112.87 666.40,114.60 C664.42,116.33 661.07,118.02 660.00,118.70" fill="none" stroke="#1a1a1a" stroke-width="1"/>
<path d="M632.2,44.2 C634.6,44.3 634.9,46.8 632.2,47.4" fill="none" stroke="#1a1a1a" stroke-width="1"/>
<path d="M661.20,44.2 C658.80,44.3 658.50,46.8 661.20,47.4" fill="none" stroke="#1a1a1a" stroke-width="1"/>
<path d="M646.50,48.80 C644.33,48.80 641.95,50.18 640.00,51.20 C638.05,52.22 636.38,53.42 634.80,54.90 C633.22,56.38 631.65,58.22 630.50,60.10 C629.35,61.98 628.62,63.88 627.90,66.20 C627.18,68.52 626.72,71.37 626.20,74.00 C625.68,76.63 625.10,79.50 624.80,82.00 C624.50,84.50 624.37,86.67 624.40,89.00 C624.43,91.33 624.53,93.83 625.00,96.00 C625.47,98.17 626.12,100.23 627.20,102.00 C628.28,103.77 629.70,105.35 631.50,106.60 C633.30,107.85 635.50,108.87 638.00,109.50 C640.50,110.13 643.67,110.40 646.50,110.40 C649.33,110.40 652.50,110.13 655.00,109.50 C657.50,108.87 659.70,107.85 661.50,106.60 C663.30,105.35 664.72,103.77 665.80,102.00 C666.88,100.23 667.53,98.17 668.00,96.00 C668.47,93.83 668.57,91.33 668.60,89.00 C668.63,86.67 668.50,84.50 668.20,82.00 C667.90,79.50 667.32,76.63 666.80,74.00 C666.28,71.37 665.82,68.52 665.10,66.20 C664.38,63.88 663.65,61.98 662.50,60.10 C661.35,58.22 659.78,56.38 658.20,54.90 C656.62,53.42 654.95,52.22 653.00,51.20 C651.05,50.18 648.67,48.80 646.50,48.80 Z" fill="none" stroke="#1a1a1a" stroke-width="1"/>
<path d="M632.6,47.6 C635.5,46 638.5,44.8 641.5,44.2 C644,43.9 645.8,45.2 648.0,49.0" fill="none" stroke="#1a1a1a" stroke-width="1"/>
<path d="M660.80,47.6 C657.90,46 654.90,44.8 651.90,44.2 C649.40,43.9 647.60,45.2 645.40,49.0" fill="none" stroke="#1a1a1a" stroke-width="1"/>
<circle cx="646.4" cy="95.3" r="4.8" fill="#AEDFE6"/>
<line x1="646.6" y1="88.2" x2="646.6" y2="93" stroke="#222" stroke-width="1.2"/>
<text x="646.80" y="86.30" font-size="7.8" font-weight="normal" font-style="normal" text-anchor="middle" fill="#1e1e1e" stroke="#1e1e1e" stroke-width="0.16" letter-spacing="-0.3">ms</text>
<path d="M644.20,151.30 C643.67,151.70 642.42,152.65 641.00,153.70 C639.58,154.75 637.87,156.08 635.70,157.60 C633.53,159.12 630.53,160.57 628.00,162.80 C625.47,165.03 622.50,167.80 620.50,171.00 C618.50,174.20 616.88,177.83 616.00,182.00 C615.12,186.17 615.18,191.00 615.20,196.00 C615.22,201.00 615.22,207.50 616.10,212.00 C616.98,216.50 618.52,219.92 620.50,223.00 C622.48,226.08 625.03,228.27 628.00,230.50 C630.97,232.73 636.58,235.42 638.30,236.40 C640.50,238 641.6,240.2 641.1,242.2 C640.3,244.6 637.6,246.3 635.8,247 L657.80,247 C656.00,246.3 653.30,244.6 652.50,242.2 C652.00,240.2 653.10,238 655.30,236.4 C657.02,235.42 662.63,232.73 665.60,230.50 C668.57,228.27 671.12,226.08 673.10,223.00 C675.08,219.92 676.62,216.50 677.50,212.00 C678.38,207.50 678.38,201.00 678.40,196.00 C678.42,191.00 678.48,186.17 677.60,182.00 C676.72,177.83 675.10,174.20 673.10,171.00 C671.10,167.80 668.13,165.03 665.60,162.80 C663.07,160.57 660.07,159.12 657.90,157.60 C655.73,156.08 654.02,154.75 652.60,153.70 C651.18,152.65 649.93,151.70 649.40,151.30" fill="none" stroke="#1a1a1a" stroke-width="1"/>
<path d="M645.60,152.90 C645.50,153.55 645.50,155.57 645.00,156.80 C644.50,158.03 643.77,159.08 642.60,160.30 C641.43,161.52 639.67,162.63 638.00,164.10 C636.33,165.57 634.18,167.28 632.60,169.10 C631.02,170.92 629.60,172.85 628.50,175.00 C627.40,177.15 626.60,179.17 626.00,182.00 C625.40,184.83 625.08,188.67 624.90,192.00 C624.72,195.33 624.90,200.33 624.90,202.00" fill="none" stroke="#1a1a1a" stroke-width="1"/>
<path d="M648.00,152.90 C648.10,153.55 648.10,155.57 648.60,156.80 C649.10,158.03 649.83,159.08 651.00,160.30 C652.17,161.52 653.93,162.63 655.60,164.10 C657.27,165.57 659.42,167.28 661.00,169.10 C662.58,170.92 664.00,172.85 665.10,175.00 C666.20,177.15 667.00,179.17 667.60,182.00 C668.20,184.83 668.52,188.67 668.70,192.00 C668.88,195.33 668.70,200.33 668.70,202.00" fill="none" stroke="#1a1a1a" stroke-width="1"/>
<path d="M644.2,151.3 C645.0,151.0 645.8,151.8 645.6,152.9" fill="none" stroke="#1a1a1a" stroke-width="1"/>
<path d="M649.40,151.3 C648.60,151.0 647.80,151.8 648.00,152.9" fill="none" stroke="#1a1a1a" stroke-width="1"/>
<path d="M646.4,164.9 C634,165.4 625.3,177 625.0,194 C624.8,212 634,224.2 646.6,224.2 C659.2,224.2 668,212 667.8,194 C667.5,177 658.8,165.4 646.4,164.9 Z" fill="none" stroke="#1a1a1a" stroke-width="1"/>
<circle cx="646.9" cy="206.7" r="4.5" fill="#AEDFE6" stroke="#C63D9B" stroke-width="1.4" stroke-dasharray="2.8 1.9" stroke-dashoffset="1"/>
<text x="653.50" y="192.30" font-size="7.8" font-weight="normal" font-style="normal" text-anchor="middle" fill="#1e1e1e" stroke="#1e1e1e" stroke-width="0.16" letter-spacing="-0.3">msw</text>
<line x1="651.4" y1="195.2" x2="648.4" y2="201.9" stroke="#222" stroke-width="1.1"/>
<line x1="646.8" y1="207.9" x2="646.8" y2="213.3" stroke="#444" stroke-width="1.1"/>
<text x="647.00" y="219.30" font-size="7.8" font-weight="normal" font-style="normal" text-anchor="middle" fill="#1e1e1e" stroke="#1e1e1e" stroke-width="0.16" letter-spacing="-0.3">ms</text>
<path d="M643.4,308.5 L643.4,337.4 M644.3,309 C644.6,318 644.2,328 643.7,337.4 M649.8,308.5 L650.3,337.4 M648.9,309 C648.6,318 649.0,328 649.6,337.4" fill="none" stroke="#444" stroke-width="0.8"/>
<line x1="620.8" y1="337.4" x2="672.8" y2="337.4" stroke="#1a1a1a" stroke-width="1"/>
<ellipse cx="647.4" cy="284.0" rx="22.5" ry="25.9" fill="#fff" stroke="#1a1a1a" stroke-width="1"/>
<circle cx="640.6" cy="268.4" r="4.45" fill="#AEDFE6" stroke="#C63D9B" stroke-width="1.5"/>
<circle cx="653.2" cy="268.4" r="4.45" fill="#AEDFE6" stroke="#C63D9B" stroke-width="1.5"/>
<circle cx="633.9" cy="279.7" r="4.45" fill="#AEDFE6" stroke="#C63D9B" stroke-width="1.5"/>
<circle cx="646.7" cy="278.2" r="4.45" fill="#AEDFE6" stroke="#C63D9B" stroke-width="1.5"/>
<circle cx="659.8" cy="279.7" r="4.45" fill="#AEDFE6" stroke="#C63D9B" stroke-width="1.5"/>
<circle cx="633.9" cy="290.5" r="4.45" fill="#AEDFE6" stroke="#C63D9B" stroke-width="1.5"/>
<circle cx="646.9" cy="290.5" r="4.45" fill="#AEDFE6" stroke="#C63D9B" stroke-width="1.5"/>
<circle cx="659.8" cy="290.5" r="4.45" fill="#AEDFE6" stroke="#C63D9B" stroke-width="1.5"/>
<circle cx="640.7" cy="300.2" r="4.45" fill="#AEDFE6" stroke="#C63D9B" stroke-width="1.5"/>
<circle cx="653.3" cy="300.2" r="4.45" fill="#AEDFE6" stroke="#C63D9B" stroke-width="1.5"/>
<line x1="626.8" y1="300.8" x2="631.1" y2="295.6" stroke="#222" stroke-width="1.3"/>
<line x1="636.9" y1="310.4" x2="640.1" y2="302.7" stroke="#222" stroke-width="1.3"/>
<text x="623.40" y="307.60" font-size="7.8" font-weight="normal" font-style="normal" text-anchor="middle" fill="#1e1e1e" stroke="#1e1e1e" stroke-width="0.16" letter-spacing="-0.3">sw</text>
<text x="634.00" y="316.20" font-size="7.8" font-weight="normal" font-style="normal" text-anchor="middle" fill="#1e1e1e" stroke="#1e1e1e" stroke-width="0.16" letter-spacing="-0.3">sp</text>
</svg>
</body></html>
